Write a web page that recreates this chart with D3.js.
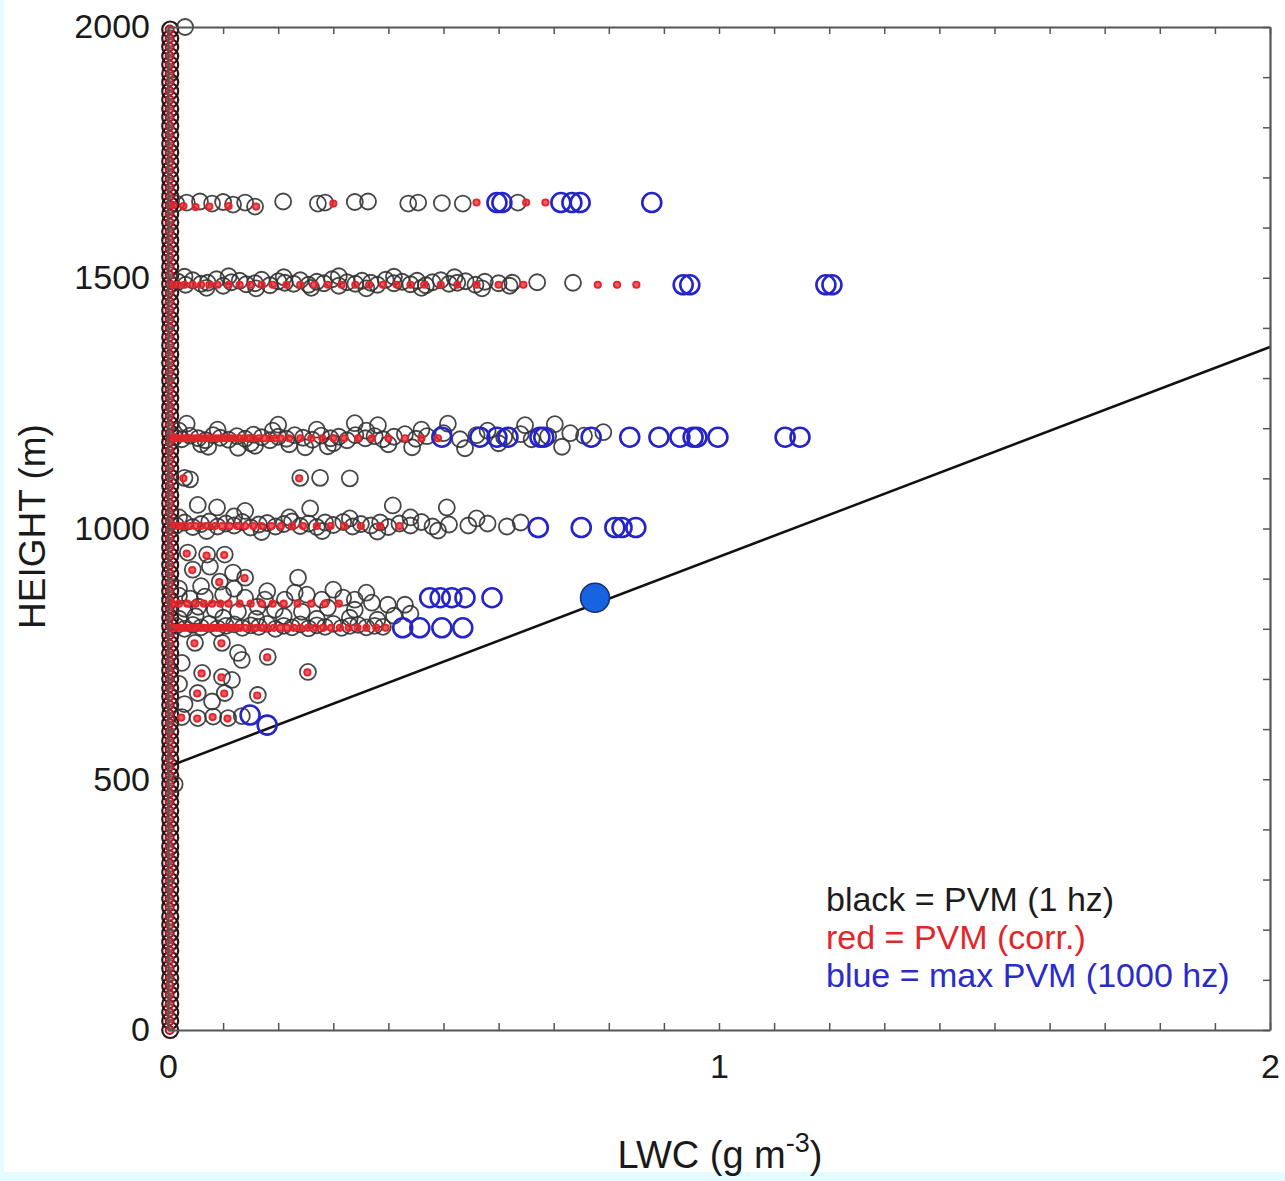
<!DOCTYPE html>
<html>
<head>
<meta charset="utf-8">
<script src="https://cdn.jsdelivr.net/npm/d3@7"></script>
<style>
  body { margin: 0; background: #e4fbff; }
  text { font-family: "Liberation Sans", Arial, sans-serif; }
</style>
</head>
<body>
<svg id="chart"></svg>
<script>
// LWC (g m-3) vs height (m)
let xTicks = [0, 1, 2];
let yTicks = [0, 500, 1000, 1500, 2000];

// column of points sitting at LWC ~ 0 (black + red)
let colHeights = [0, 18, 35, 52, 71, 88, 104, 123, 140, 158, 175, 193, 210, 226, 245, 262, 280, 297, 315, 332,
  350, 366, 384, 402, 420, 437, 455, 472, 490, 507, 525, 541, 560, 577, 595, 612, 630, 648, 665, 682,
  700, 717, 735, 752, 770, 787, 805, 822, 840, 857, 875, 892, 910, 927, 945, 962, 980, 997, 1015, 1032,
  1050, 1067, 1085, 1102, 1120, 1137, 1155, 1172, 1190, 1207, 1225, 1242, 1260, 1277, 1295, 1312, 1330, 1347,
  1365, 1382, 1400, 1417, 1435, 1452, 1470, 1487, 1505, 1522, 1540, 1557, 1575, 1592, 1610, 1627, 1645, 1662,
  1680, 1697, 1715, 1732, 1750, 1767, 1785, 1802, 1820, 1837, 1855, 1872, 1890, 1907, 1925, 1942, 1960, 1977, 1995];

// black = PVM (1 hz)  [lwc, height]
let blackPts = [
  [0.015,1648],[0.034,1650],[0.058,1652],[0.080,1648],[0.100,1651],[0.118,1646],[0.140,1650],[0.158,1642],[0.209,1652],
  [0.272,1648],[0.285,1650],[0.339,1651],[0.363,1652],[0.436,1648],[0.454,1650],[0.497,1649],[0.535,1648],[0.635,1650],
  [0.018,1492],[0.032,1486],[0.045,1495],[0.060,1488],[0.072,1490],[0.088,1497],[0.100,1484],[0.115,1491],[0.130,1494],
  [0.142,1487],[0.158,1489],[0.170,1496],[0.185,1485],[0.200,1493],[0.212,1490],[0.228,1488],[0.240,1495],[0.255,1486],
  [0.270,1492],[0.283,1489],[0.298,1497],[0.310,1484],[0.325,1491],[0.340,1488],[0.352,1494],[0.368,1490],[0.380,1486],
  [0.395,1496],[0.410,1489],[0.425,1492],[0.440,1487],[0.452,1494],[0.468,1485],[0.480,1491],[0.495,1495],[0.510,1488],
  [0.525,1490],[0.540,1493],[0.558,1486],[0.575,1492],[0.600,1489],[0.625,1490],[0.670,1491],[0.735,1490],
  [0.030,1502],[0.070,1480],[0.110,1503],[0.160,1479],[0.210,1501],[0.260,1480],[0.310,1503],[0.360,1479],[0.410,1502],
  [0.460,1480],[0.520,1501],[0.570,1479],[0.620,1484],
  [0.034,1209],[0.200,1207],[0.339,1210],[0.381,1206],[0.508,1209],[0.648,1206],[0.702,1208],
  [0.012,1182],[0.025,1178],[0.040,1185],[0.055,1180],[0.068,1176],[0.082,1186],[0.095,1181],[0.110,1177],[0.125,1184],
  [0.140,1179],[0.155,1187],[0.170,1182],[0.185,1176],[0.200,1183],[0.215,1179],[0.230,1186],[0.245,1181],[0.262,1177],
  [0.278,1185],[0.295,1180],[0.310,1183],[0.325,1176],[0.340,1186],[0.358,1180],[0.375,1184],[0.390,1178],[0.410,1183],
  [0.430,1188],[0.450,1179],[0.470,1184],[0.500,1190],[0.530,1178],[0.560,1186],[0.610,1182],[0.640,1188],[0.660,1178],
  [0.690,1184],[0.730,1190],[0.755,1185],[0.790,1192],
  [0.020,1195],[0.060,1168],[0.090,1197],[0.150,1170],[0.190,1195],[0.220,1168],[0.270,1197],[0.300,1170],[0.360,1195],
  [0.400,1168],[0.460,1197],[0.580,1195],[0.600,1170],
  [0.073,1163],[0.127,1161],[0.158,1165],[0.249,1162],[0.290,1164],[0.443,1162],[0.539,1160],[0.715,1163],
  [0.030,1101],[0.040,1098],[0.240,1101],[0.276,1101],[0.330,1100],
  [0.054,1047],[0.089,1042],[0.140,1035],[0.258,1040],[0.408,1046],[0.506,1042],
  [0.015,1006],[0.030,1012],[0.045,1003],[0.060,1009],[0.075,1014],[0.090,1004],[0.105,1010],[0.120,1006],[0.135,1013],
  [0.150,1002],[0.165,1008],[0.180,1011],[0.195,1004],[0.210,1009],[0.225,1014],[0.240,1005],[0.255,1010],[0.270,1003],
  [0.285,1012],[0.300,1007],[0.318,1013],[0.335,1004],[0.350,1009],[0.368,1006],[0.385,1012],[0.400,1003],[0.420,1010],
  [0.440,1006],[0.460,1013],[0.480,1004],[0.510,1008],[0.545,1006],[0.580,1010],[0.615,1004],[0.640,1012],
  [0.020,1022],[0.070,995],[0.120,1024],[0.170,993],[0.220,1022],[0.280,995],[0.330,1020],[0.380,994],[0.440,1022],
  [0.490,996],[0.560,1020],
  [0.036,952],[0.071,948],[0.103,948],[0.045,918],[0.076,924],[0.118,912],[0.094,894],[0.140,902],[0.236,902],
  [0.020,880],[0.060,885],[0.120,880],[0.180,875],[0.230,872],[0.300,878],[0.360,872],
  [0.020,866],[0.040,860],[0.067,864],[0.100,868],[0.140,862],[0.176,858],[0.212,858],[0.252,868],[0.279,858],
  [0.318,862],[0.339,858],[0.370,852],[0.399,848],[0.430,848],
  [0.030,840],[0.055,844],[0.085,838],[0.127,834],[0.163,844],[0.194,838],[0.243,834],[0.290,842],[0.339,838],
  [0.020,820],[0.050,825],[0.100,822],[0.160,820],[0.210,825],[0.270,820],[0.330,822],[0.380,818],[0.410,826],[0.440,830],
  [0.015,806],[0.030,800],[0.045,808],[0.060,803],[0.075,810],[0.090,801],[0.105,806],[0.120,809],[0.135,802],
  [0.150,807],[0.165,804],[0.180,810],[0.195,800],[0.210,806],[0.225,803],[0.240,809],[0.255,801],[0.270,807],
  [0.285,804],[0.300,810],[0.315,802],[0.330,806],[0.345,808],[0.360,803],[0.375,806],[0.390,804],
  [0.049,772],[0.098,772],[0.127,752],[0.181,744],[0.134,738],[0.025,732],[0.062,712],[0.098,704],[0.116,698],
  [0.054,672],[0.103,672],[0.254,714],[0.163,668],[0.020,690],[0.030,650],[0.080,655],
  [0.025,624],[0.054,622],[0.082,625],[0.109,622],[0.134,626],
  [0.031,2000],[0.012,490]
];

// red = PVM (corr.) rows
let redRow1490 = [0.008,0.018,0.030,0.045,0.060,0.075,0.090,0.110,0.130,0.150,0.170,0.190,0.215,0.240,0.265,0.290,
  0.315,0.340,0.365,0.390,0.415,0.440,0.465,0.495,0.525,0.560,0.600,0.645,0.780,0.815,0.850];
let redRow1180 = [0.005,0.010,0.016,0.022,0.028,0.034,0.040,0.046,0.053,0.060,0.066,0.073,0.080,0.087,0.094,0.101,
  0.108,0.115,0.122,0.130,0.138,0.146,0.155,0.165,0.175,0.185,0.195,0.205,0.220,0.240,0.260,0.280,0.300,0.320,
  0.345,0.370,0.400,0.430,0.460,0.490];
let redRow1005 = [0.006,0.014,0.022,0.030,0.040,0.050,0.060,0.072,0.085,0.098,0.112,0.126,0.140,0.155,0.170,0.188,
  0.205,0.225,0.245,0.270,0.295,0.320,0.350,0.385,0.420];
let redRow850 = [0.008,0.020,0.035,0.050,0.065,0.080,0.095,0.110,0.130,0.150,0.170,0.190,0.210,0.235,0.260,0.285,0.310];
let redRow802 = [0.005,0.011,0.017,0.023,0.029,0.035,0.041,0.047,0.053,0.059,0.065,0.071,0.077,0.083,0.089,0.095,
  0.102,0.109,0.116,0.123,0.131,0.140,0.150,0.160,0.170,0.180,0.192,0.204,0.216,0.228,0.240,0.254,0.268,0.282,
  0.296,0.312,0.328,0.344,0.360,0.378,0.395];
let redScatter = [
  [0.010,1645],[0.028,1643],[0.050,1641],[0.075,1642],[0.110,1643],[0.160,1642],[0.300,1648],[0.560,1650],[0.650,1650],[0.685,1650],
  [0.028,1100],[0.238,1100],
  [0.034,950],[0.070,946],[0.102,947],[0.044,917],[0.093,893],[0.139,901],[0.048,771],[0.097,771],[0.180,743],[0.061,711],
  [0.097,703],[0.053,671],[0.102,671],[0.253,713],[0.162,667],[0.024,623],[0.053,621],[0.081,624],[0.108,621]
];

// blue = max PVM (1000 hz)
let bluePts = [
  [0.597,1650],[0.606,1650],[0.713,1650],[0.733,1650],[0.748,1650],[0.878,1650],
  [0.935,1486],[0.947,1486],[1.194,1486],[1.205,1486],
  [0.497,1182],[0.566,1182],[0.597,1182],[0.617,1182],[0.675,1182],[0.682,1182],[0.768,1182],[0.838,1182],
  [0.891,1182],[0.929,1182],[0.953,1182],[0.960,1182],[0.998,1182],[1.120,1182],[1.147,1182],
  [0.672,1002],[0.750,1002],[0.811,1002],[0.824,1002],[0.849,1002],
  [0.475,862],[0.494,862],[0.515,862],[0.539,862],[0.588,862],
  [0.426,802],[0.457,802],[0.497,802],[0.535,802],
  [0.149,628],[0.180,608]
];
let blueMax = [[0.775, 862]];

let fitLine = [[0, 525], [2, 1362]];

let legendLines = [
  { label: 'black = PVM (1 hz)', color: '#1c1c1c' },
  { label: 'red = PVM (corr.)', color: '#e3262c' },
  { label: 'blue = max PVM (1000 hz)', color: '#2b2bc8' }
];

let width = 1285, height = 1181;
let margin = { top: 27, right: 15, bottom: 151, left: 168 };

let svg = d3.select('#chart').attr('width', width).attr('height', height);

svg.append('rect').attr('x', 4).attr('y', 0).attr('width', width - 4).attr('height', 1172).attr('fill', '#fff');

let xScale = d3.scaleLinear().domain([0, 2]).range([margin.left, width - margin.right]);
let yScale = d3.scaleLinear().domain([0, 2000]).range([height - margin.bottom, margin.top]);

let plot = svg.append('g');

// fit line
plot.append('path')
  .datum(fitLine)
  .attr('d', d3.line().x(d => xScale(d[0])).y(d => yScale(d[1])))
  .attr('stroke', '#111')
  .attr('stroke-width', 2.5)
  .attr('fill', 'none');

let redPts = [];
redRow1490.forEach(v => redPts.push([v, 1486]));
redRow1180.forEach(v => redPts.push([v, 1180]));
redRow1005.forEach(v => redPts.push([v, 1005]));
redRow850.forEach(v => redPts.push([v, 850]));
redRow802.forEach(v => redPts.push([v, 802]));
redPts = redPts.concat(redScatter);

// column at zero
plot.selectAll('.col')
  .data(colHeights)
  .enter()
  .append('circle')
  .attr('class', 'col')
  .attr('cx', xScale(0.004))
  .attr('cy', d => yScale(d))
  .attr('r', 8)
  .attr('fill', 'none')
  .attr('stroke', '#2e1414')
  .attr('stroke-width', 2.2);

plot.selectAll('.black')
  .data(blackPts)
  .enter()
  .append('circle')
  .attr('class', 'black')
  .attr('cx', d => xScale(d[0]))
  .attr('cy', d => yScale(d[1]))
  .attr('r', 8)
  .attr('fill', 'none')
  .attr('stroke', '#333')
  .attr('stroke-opacity', 0.9)
  .attr('stroke-width', 1.8);

plot.selectAll('.colred')
  .data(colHeights)
  .enter()
  .append('circle')
  .attr('class', 'colred')
  .attr('cx', xScale(0.003))
  .attr('cy', d => yScale(d))
  .attr('r', 4)
  .attr('fill', '#e88')
  .attr('fill-opacity', 0.5)
  .attr('stroke', '#b8121e')
  .attr('stroke-width', 2);

plot.selectAll('.red')
  .data(redPts)
  .enter()
  .append('circle')
  .attr('class', 'red')
  .attr('cx', d => xScale(d[0]))
  .attr('cy', d => yScale(d[1]))
  .attr('r', 3.2)
  .attr('fill', '#e4242c')
  .attr('fill-opacity', 0.75)
  .attr('stroke', '#e4242c')
  .attr('stroke-width', 1.8);

plot.selectAll('.blue')
  .data(bluePts)
  .enter()
  .append('circle')
  .attr('class', 'blue')
  .attr('cx', d => xScale(d[0]))
  .attr('cy', d => yScale(d[1]))
  .attr('r', 9.5)
  .attr('fill', 'none')
  .attr('stroke', '#2424c8')
  .attr('stroke-width', 2.6);

plot.selectAll('.bluemax')
  .data(blueMax)
  .enter()
  .append('circle')
  .attr('class', 'bluemax')
  .attr('cx', d => xScale(d[0]))
  .attr('cy', d => yScale(d[1]))
  .attr('r', 14.5)
  .attr('fill', '#1763e0')
  .attr('stroke', '#16306e')
  .attr('stroke-width', 1.5);

// frame + ticks
let axisColor = '#555';
let xMinor = d3.range(0, 2.001, 0.1);
let yMinor = d3.range(0, 2001, 100);

let axes = svg.append('g');

function styleAxis(g) {
  g.select('.domain').attr('stroke', axisColor).attr('stroke-width', 2.2);
  g.selectAll('.tick line').attr('stroke', axisColor).attr('stroke-width', 1.5);
}

axes.append('g')
  .attr('transform', `translate(0, ${yScale(0)})`)
  .call(d3.axisBottom(xScale).tickValues(xMinor).tickSize(-7).tickSizeOuter(0).tickFormat(''))
  .call(styleAxis);
axes.append('g')
  .attr('transform', `translate(0, ${yScale(2000)})`)
  .call(d3.axisTop(xScale).tickValues(xMinor).tickSize(-7).tickSizeOuter(0).tickFormat(''))
  .call(styleAxis);
axes.append('g')
  .attr('transform', `translate(${xScale(0)}, 0)`)
  .call(d3.axisLeft(yScale).tickValues(yMinor).tickSize(-7).tickSizeOuter(0).tickFormat(''))
  .call(styleAxis);
axes.append('g')
  .attr('transform', `translate(${xScale(2)}, 0)`)
  .call(d3.axisRight(yScale).tickValues(yMinor).tickSize(-7).tickSizeOuter(0).tickFormat(''))
  .call(styleAxis);

// tick labels
let xLab = axes.append('g')
  .attr('transform', `translate(0, ${yScale(0)})`)
  .call(d3.axisBottom(xScale).tickValues(xTicks).tickSize(0).tickPadding(24).tickFormat(d3.format('d')));
xLab.select('.domain').remove();
xLab.selectAll('text').attr('font-size', 34).attr('fill', '#1a1a1a').attr('font-family', '"Liberation Sans", Arial, sans-serif');

let yLab = axes.append('g')
  .attr('transform', `translate(${xScale(0)}, 0)`)
  .call(d3.axisLeft(yScale).tickValues(yTicks).tickSize(0).tickPadding(18).tickFormat(d3.format('d')));
yLab.select('.domain').remove();
yLab.selectAll('text').attr('font-size', 34).attr('fill', '#1a1a1a').attr('font-family', '"Liberation Sans", Arial, sans-serif');

// axis titles
svg.append('text')
  .attr('transform', `translate(45, ${yScale(1000) - 2}) rotate(-90)`)
  .attr('text-anchor', 'middle')
  .attr('font-size', 37)
  .attr('fill', '#1a1a1a')
  .text('HEIGHT (m)');

let xt = svg.append('text')
  .attr('x', 720)
  .attr('y', 1168)
  .attr('text-anchor', 'middle')
  .attr('font-size', 38)
  .attr('fill', '#1a1a1a');
xt.append('tspan').text('LWC (g m');
xt.append('tspan').attr('font-size', 27).attr('dy', -16).text('-3');
xt.append('tspan').attr('dy', 16).text(')');

// legend
svg.selectAll('.legend')
  .data(legendLines)
  .enter()
  .append('text')
  .attr('class', 'legend')
  .attr('x', 826)
  .attr('y', (d, i) => 911 + i * 38)
  .attr('font-size', 34)
  .attr('fill', d => d.color)
  .text(d => d.label);
</script>
</body>
</html>
